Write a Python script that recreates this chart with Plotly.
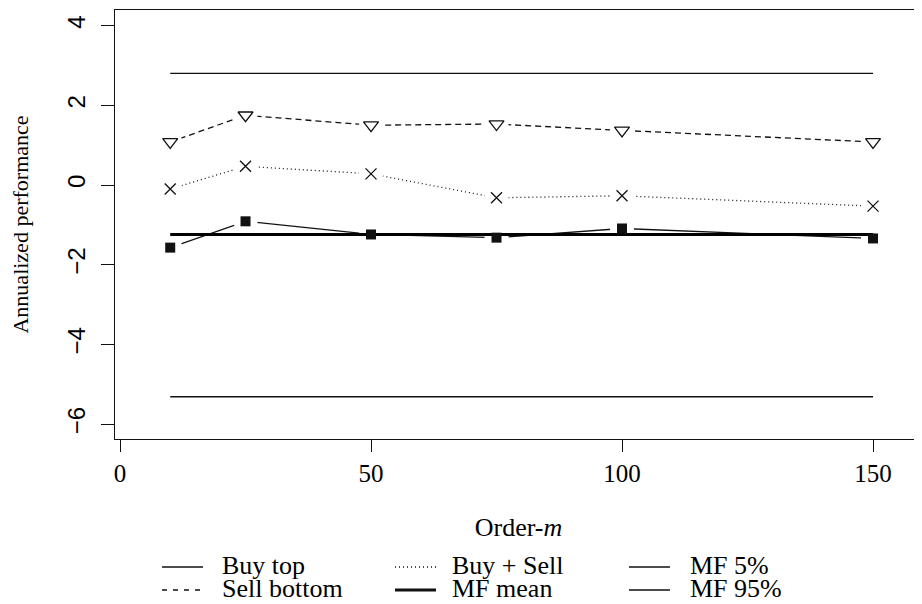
import plotly.graph_objects as go

# ---- data ----
order_m = [10, 25, 50, 75, 100, 150]
buy_top = [-1.57, -0.91, -1.24, -1.32, -1.09, -1.34]
sell_bottom = [1.08, 1.75, 1.50, 1.53, 1.37, 1.08]
buy_sell = [-0.10, 0.47, 0.28, -0.32, -0.27, -0.53]
mf_mean = -1.24
mf_5 = -5.31
mf_95 = 2.80
mf_span = [10, 150]

y_ticks = [-6, -4, -2, 0, 2, 4]
x_ticks = [0, 50, 100, 150]

legend_names = ["Buy top", "Sell bottom", "Buy + Sell", "MF mean", "MF 5%", "MF 95%"]

SERIF = "Liberation Serif"
SANS = "Liberation Sans"
INK = "#111111"

# page places the figure 8px from the top-left corner of the window
OFF = 8
W, H = 922 - OFF, 604 - OFF
L, R, T, B = 115 - OFF, 0, 10 - OFF, 604 - 439

fig = go.Figure()

# MF bands
for lvl in (mf_95, mf_5):
    fig.add_trace(go.Scatter(x=mf_span, y=[lvl, lvl], mode="lines",
                             line=dict(color=INK, width=1.3), showlegend=False,
                             hoverinfo="skip"))

# series lines
series = [
    (buy_top, "solid", "square", dict(size=10, color=INK)),
    (sell_bottom, "6px,4px", "triangle-down-open", dict(size=13, color=INK, line=dict(width=1.3, color=INK))),
    (buy_sell, "1px,3px", "x-thin-open", dict(size=11, color=INK, line=dict(width=1.3, color=INK))),
]
for ys, dash, sym, mk in series:
    fig.add_trace(go.Scatter(x=order_m, y=ys, mode="lines",
                             line=dict(color=INK, width=1.3, dash=dash),
                             showlegend=False, hoverinfo="skip"))
# gaps around points (type "b" look)
for ys, dash, sym, mk in series:
    fig.add_trace(go.Scatter(x=order_m, y=ys, mode="markers",
                             marker=dict(symbol="circle", size=24, color="white"),
                             showlegend=False, hoverinfo="skip"))
# MF mean
fig.add_trace(go.Scatter(x=mf_span, y=[mf_mean, mf_mean], mode="lines",
                         line=dict(color="black", width=3), showlegend=False,
                         hoverinfo="skip"))
# point symbols
for ys, dash, sym, mk in series:
    fig.add_trace(go.Scatter(x=order_m, y=ys, mode="markers",
                             marker=dict(symbol=sym, **mk),
                             showlegend=False))

# ---- manual legend (3 columns x 2 rows, column-major) ----
pw, ph = W - L - R, H - T - B
def px(x):
    return (x - OFF - L) / pw
def py(y):
    return (H - B - (y - OFF)) / ph

col_line_x = [162, 395, 629]
col_text_x = [220, 450, 688]
row_y = [567, 590]
leg_styles = [
    dict(width=1.3, dash="solid"),
    dict(width=1.3, dash="5px,6px"),
    dict(width=1.3, dash="1px,3px"),
    dict(width=3, dash="solid"),
    dict(width=1.3, dash="solid"),
    dict(width=1.3, dash="solid"),
]
for i, name in enumerate(legend_names):
    c, r = divmod(i, 2)
    st = leg_styles[i]
    fig.add_shape(type="line", xref="paper", yref="paper",
                  x0=px(col_line_x[c]), x1=px(col_line_x[c] + 41),
                  y0=py(row_y[r]), y1=py(row_y[r]),
                  line=dict(color=INK, width=st["width"], dash=st["dash"]))
    fig.add_annotation(xref="paper", yref="paper", x=px(col_text_x[c]), y=py(row_y[r] - 2),
                       text=name, showarrow=False, xanchor="left", yanchor="middle",
                       font=dict(family=SERIF, size=26, color="black"))

fig.update_layout(
    width=W, height=H,
    margin=dict(l=L, r=R, t=T, b=B, autoexpand=False),
    plot_bgcolor="white", paper_bgcolor="white",
    showlegend=False,
    xaxis=dict(range=[-1.0, 159.76], tickvals=x_ticks, ticktext=[str(v) for v in x_ticks],
               showgrid=False, zeroline=False, showline=True, linecolor=INK, linewidth=1.3,
               mirror=True, ticks="outside", ticklen=12, tickwidth=1.3, tickcolor=INK,
               ticklabelstandoff=0,
               tickfont=dict(family=SERIF, size=25, color="black"),
               title=dict(text="Order-<i>m</i>", font=dict(family=SERIF, size=26, color="black"),
                          standoff=31)),
    yaxis=dict(range=[-6.37, 4.39], tickvals=y_ticks,
               showgrid=False, zeroline=False, showline=True, linecolor=INK, linewidth=1.3,
               ticks="outside", ticklen=13, tickwidth=1.3, tickcolor=INK,
               tickangle=-90, ticklabelstandoff=6,
               tickfont=dict(family=SANS, size=24, color="black"),
               title=dict(text="Annualized performance", font=dict(family=SERIF, size=22, color="black"),
                          standoff=30)),
)

fig.write_html("out.html")
